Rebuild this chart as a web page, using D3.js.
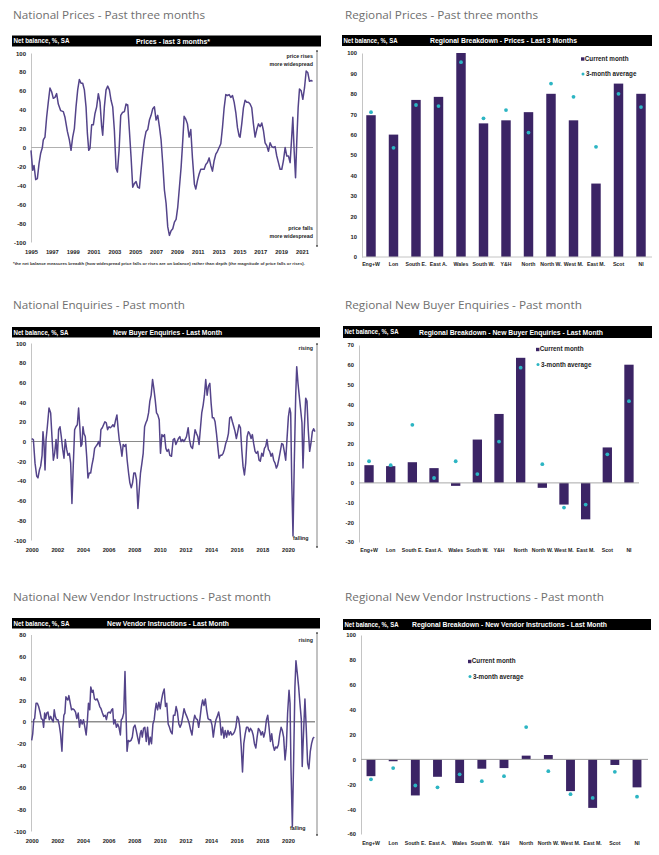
<!DOCTYPE html>
<html><head><meta charset="utf-8">
<script src="https://cdn.jsdelivr.net/npm/d3@7"></script>
<style>body{margin:0;background:#fff}svg{display:block}</style>
</head><body><svg id="c" width="659" height="855"></svg>
<script>
// ---------------- DATA ----------------
const priceDates = [
 1995.00,1995.16,1995.29,1995.45,1995.61,1995.77,1995.93,1996.09,1996.18,1996.34,1996.50,1996.66,
 1996.82,1996.98,1997.14,1997.30,1997.46,1997.62,1997.85,1998.10,1998.26,1998.49,1998.68,1998.84,
 1999.00,1999.16,1999.32,1999.48,1999.64,1999.80,1999.96,2000.12,2000.28,2000.41,2000.54,2000.66,
 2000.82,2000.98,2001.14,2001.30,2001.46,2001.62,2001.78,2001.88,2002.04,2002.20,2002.36,2002.52,
 2002.68,2002.84,2003.00,2003.16,2003.29,2003.45,2003.61,2003.77,2003.96,2004.12,2004.28,2004.44,
 2004.60,2004.76,2004.92,2005.08,2005.24,2005.40,2005.56,2005.72,2005.88,2006.04,2006.20,2006.36,
 2006.52,2006.68,2006.84,2007.00,2007.16,2007.32,2007.48,2007.64,2007.80,2007.96,2008.12,2008.28,
 2008.44,2008.60,2008.76,2008.92,2009.08,2009.24,2009.40,2009.56,2009.69,2009.85,2010.01,2010.17,
 2010.33,2010.49,2010.68,2010.81,2010.97,2011.13,2011.29,2011.45,2011.61,2011.77,2011.93,2012.09,
 2012.25,2012.41,2012.57,2012.73,2012.89,2013.05,2013.21,2013.37,2013.53,2013.69,2013.85,2014.01,
 2014.17,2014.33,2014.49,2014.65,2014.81,2014.97,2015.06,2015.22,2015.38,2015.54,2015.70,2015.86,
 2016.02,2016.18,2016.34,2016.50,2016.66,2016.82,2016.98,2017.14,2017.30,2017.46,2017.62,2017.78,
 2017.94,2018.10,2018.26,2018.42,2018.58,2018.74,2018.90,2019.06,2019.22,2019.38,2019.54,2019.70,
 2019.86,2019.99,2020.12,2020.25,2020.38,2020.50,2020.63,2020.76,2020.92,2021.08,2021.24,2021.40,
 2021.56,2021.72,2021.88,2022.01];
const priceValues = [
 -3,-24,-19,-34,-33,-17,-6,0,8,11,32,48,
 63,59,52,53,57,46,39,38,32,17,8,-3,
 11,20,43,61,72,68,68,61,43,15,-3,-1,
 24,24,36,43,57,48,22,13,43,61,65,61,
 50,43,18,-22,-26,-3,34,37,38,46,45,18,
 -10,-42,-38,-36,-42,-43,-24,-6,8,17,19,29,
 34,41,43,29,34,22,8,-17,-45,-59,-84,-93,
 -88,-86,-79,-76,-63,-42,-21,7,33,30,25,11,
 19,-11,-39,-44,-35,-28,-23,-23,-23,-18,-16,-11,
 -19,-25,-14,-7,-4,0,4,21,42,56,55,56,
 53,55,48,37,21,12,11,25,42,50,48,48,
 46,42,25,11,19,25,22,26,18,5,2,-4,
 5,1,0,1,-9,-16,-23,-23,-14,0,-9,-9,
 -16,7,32,-4,-32,7,42,62,60,51,63,81,
 79,70,71,70];

const enqDates = [
 2000.00,2000.13,2000.26,2000.39,2000.49,2000.60,2000.70,2000.81,2000.88,2000.96,2001.04,2001.12,
 2001.22,2001.35,2001.48,2001.58,2001.69,2001.79,2001.90,2002.00,2002.10,2002.21,2002.31,2002.42,
 2002.52,2002.62,2002.73,2002.83,2002.94,2003.04,2003.14,2003.25,2003.35,2003.45,2003.56,2003.66,
 2003.77,2003.84,2003.92,2004.00,2004.08,2004.18,2004.29,2004.39,2004.49,2004.60,2004.70,2004.81,
 2004.91,2005.01,2005.12,2005.22,2005.32,2005.40,2005.51,2005.61,2005.71,2005.82,2005.92,2006.03,
 2006.13,2006.23,2006.34,2006.44,2006.55,2006.65,2006.75,2006.83,2006.94,2007.04,2007.14,2007.25,
 2007.35,2007.45,2007.56,2007.66,2007.77,2007.87,2007.97,2008.08,2008.18,2008.29,2008.39,2008.49,
 2008.60,2008.70,2008.81,2008.91,2009.01,2009.12,2009.22,2009.32,2009.43,2009.53,2009.64,2009.74,
 2009.84,2009.95,2010.05,2010.16,2010.26,2010.36,2010.47,2010.57,2010.68,2010.78,2010.91,2011.04,
 2011.14,2011.25,2011.35,2011.45,2011.56,2011.66,2011.77,2011.87,2011.97,2012.08,2012.21,2012.31,
 2012.42,2012.55,2012.65,2012.75,2012.86,2012.96,2013.06,2013.17,2013.27,2013.38,2013.48,2013.58,
 2013.69,2013.79,2013.90,2014.00,2014.10,2014.21,2014.31,2014.42,2014.52,2014.62,2014.73,2014.83,
 2014.94,2015.04,2015.14,2015.25,2015.35,2015.45,2015.56,2015.66,2015.77,2015.87,2015.97,2016.08,
 2016.18,2016.29,2016.39,2016.49,2016.60,2016.70,2016.81,2016.91,2017.01,2017.12,2017.22,2017.32,
 2017.43,2017.53,2017.64,2017.74,2017.84,2017.95,2018.05,2018.16,2018.26,2018.36,2018.47,2018.57,
 2018.68,2018.78,2018.88,2018.99,2019.09,2019.19,2019.30,2019.40,2019.51,2019.61,2019.71,2019.82,
 2019.92,2020.03,2020.13,2020.21,2020.29,2020.39,2020.49,2020.60,2020.68,2020.78,2020.88,2020.99,
 2021.09,2021.17,2021.27,2021.38,2021.48,2021.58,2021.69,2021.79,2021.90,2022.00,2022.10];
const enqValues = [
 3,2,-22,-35,-37,-29,-25,-14,10,-2,-29,2,
 15,34,29,5,-19,-12,2,-17,12,15,5,-8,
 -17,2,-8,-14,-12,-22,-63,-22,12,15,17,34,
 12,-5,-3,15,8,5,-15,-37,-32,-32,-24,-17,
 -7,-5,-3,0,-5,12,14,17,20,19,12,15,
 14,15,17,15,22,27,12,2,-5,-15,-3,-5,
 -3,-19,-32,-42,-47,-42,-32,-32,-39,-68,-49,-32,
 -22,-12,15,19,22,29,41,47,63,54,42,29,
 27,22,-12,7,5,7,-7,-10,-8,-14,-15,2,
 3,-3,0,3,5,0,2,0,2,5,14,2,
 -5,-7,2,12,8,5,-3,14,29,37,47,63,
 47,56,59,39,24,24,20,8,-5,-17,-14,-14,
 -12,-8,-2,2,8,24,25,20,15,10,3,10,
 17,14,-8,-25,-34,-22,5,10,8,3,7,-2,
 -10,-12,-10,-19,-20,-12,-15,-7,-5,2,-8,-10,
 -15,-12,-19,-22,-27,-24,-17,-10,-2,-3,-10,-19,
 2,25,34,29,-39,-96,-22,46,76,59,46,32,
 19,-27,12,44,41,12,-10,-2,10,13,10];

const vendDates = [
 2000.00,2000.08,2000.16,2000.23,2000.34,2000.44,2000.54,2000.65,2000.75,2000.85,2000.93,2001.01,
 2001.09,2001.17,2001.27,2001.37,2001.48,2001.58,2001.68,2001.76,2001.84,2001.94,2002.05,2002.15,
 2002.25,2002.36,2002.44,2002.51,2002.59,2002.67,2002.75,2002.82,2002.90,2003.01,2003.11,2003.21,
 2003.32,2003.42,2003.52,2003.63,2003.73,2003.83,2003.94,2004.04,2004.15,2004.25,2004.35,2004.43,
 2004.53,2004.61,2004.72,2004.79,2004.90,2005.00,2005.10,2005.21,2005.31,2005.41,2005.52,2005.62,
 2005.73,2005.83,2005.93,2006.04,2006.14,2006.24,2006.32,2006.40,2006.50,2006.61,2006.71,2006.81,
 2006.92,2006.99,2007.07,2007.18,2007.28,2007.36,2007.44,2007.54,2007.64,2007.75,2007.85,2007.95,
 2008.06,2008.16,2008.26,2008.37,2008.47,2008.55,2008.63,2008.73,2008.83,2008.94,2009.04,2009.15,
 2009.25,2009.35,2009.46,2009.56,2009.64,2009.72,2009.82,2009.92,2010.03,2010.13,2010.23,2010.34,
 2010.44,2010.54,2010.65,2010.75,2010.85,2010.96,2011.06,2011.17,2011.27,2011.37,2011.48,2011.58,
 2011.68,2011.79,2011.89,2011.99,2012.10,2012.20,2012.30,2012.41,2012.51,2012.62,2012.72,2012.82,
 2012.93,2013.03,2013.13,2013.24,2013.34,2013.45,2013.55,2013.65,2013.76,2013.86,2013.96,2014.07,
 2014.17,2014.27,2014.38,2014.48,2014.59,2014.69,2014.79,2014.90,2015.00,2015.10,2015.21,2015.31,
 2015.41,2015.52,2015.62,2015.73,2015.83,2015.93,2016.04,2016.14,2016.24,2016.35,2016.45,2016.55,
 2016.66,2016.76,2016.87,2016.97,2017.07,2017.18,2017.28,2017.38,2017.49,2017.59,2017.69,2017.80,
 2017.90,2018.01,2018.11,2018.21,2018.32,2018.42,2018.52,2018.63,2018.73,2018.83,2018.94,2019.04,
 2019.15,2019.25,2019.35,2019.46,2019.56,2019.66,2019.77,2019.87,2019.97,2020.08,2020.16,2020.23,
 2020.34,2020.44,2020.54,2020.62,2020.73,2020.83,2020.93,2021.04,2021.11,2021.22,2021.32,2021.42,
 2021.53,2021.63,2021.74,2021.84,2021.95,2022.05];
const vendValues = [
 -17,-11,2,3,17,17,14,9,3,2,-5,8,
 3,8,9,2,5,2,0,11,5,2,2,-3,
 -11,-27,-5,6,8,23,21,20,24,17,11,12,
 11,9,3,8,-5,2,-2,2,-5,-12,2,17,
 11,32,27,29,21,20,21,18,14,12,8,5,
 6,2,8,9,8,11,12,-2,2,-5,-2,-5,
 -12,2,3,8,46,8,-27,-17,-18,-17,-14,-5,
 -3,-8,-14,-20,-11,-8,-14,-6,-5,-18,-5,-21,
 -14,-20,-2,2,11,17,11,18,12,20,26,30,
 14,17,-2,-5,-9,-11,6,6,14,9,-2,-5,
 -2,5,12,8,5,2,-2,-8,-12,0,6,3,
 2,-5,3,14,20,15,21,11,3,2,2,-3,
 -14,-5,2,5,9,2,-12,-5,-15,-8,-14,-8,
 -12,-9,-12,-11,-9,-5,5,3,-5,-23,-46,-20,
 -11,-5,-5,-9,-6,-8,-12,-20,-24,-14,-6,-8,
 -12,-9,-14,-9,2,6,-5,-18,-11,-21,-26,-23,
 -24,-21,-12,-5,-8,-14,-35,-23,8,29,17,-41,
 -96,-35,32,56,44,32,17,2,-41,-8,21,-5,
 -38,-43,-27,-20,-15,-14];

const regions = ["Eng+W","Lon","South E.","East A.","Wales","South W.","Y&H","North","North W.","West M.","East M.","Scot","NI"];
const regPriceCurrent = [69.5,60,77,78.5,100,65.5,67,71,80,67,36,85,80];
const regPriceAvg     = [71,53.5,74.5,74,95.5,68,72,61,85,78.5,54,80,73.5];
const regEnqCurrent   = [9,8.5,10.5,7.5,-1.5,22,35,63.5,-2.5,-11,-18.5,18,60];
const regEnqAvg       = [11,9,29.5,2.5,11,4.5,21,58.5,9.5,-12.5,-11,14.5,41.5];
const regVendCurrent  = [-13.5,-1.5,-29,-14,-19,-7.5,-7,3,3.5,-25.5,-39,-4.5,-22.5];
const regVendAvg      = [-16,-7,-21,-22.5,-12,-17.5,-13.5,26,-9.5,-28,-31,-10,-30];

const priceYearTicks = [1995,1997,1999,2001,2003,2005,2007,2009,2011,2013,2015,2017,2019,2021];
const yearTicks2000  = [2000,2002,2004,2006,2008,2010,2012,2014,2016,2018,2020];
const balanceTicks   = [-100,-80,-60,-40,-20,0,20,40,60,80,100];
const vendTicks      = [-100,-80,-60,-40,-20,0,20,40,60,80];
const regPriceTicks  = [0,10,20,30,40,50,60,70,80,90,100];
const regEnqTicks    = [-30,-20,-10,0,10,20,30,40,50,60,70];
const regVendTicks   = [-60,-40,-20,0,20,40,60,80,100];

// ---------------- STYLE ----------------
const svg = d3.select('#c');
const FONT = '"Liberation Sans", Arial, sans-serif';
const TFONT = '"Open Sans", "Noto Sans", sans-serif';
const LINE_COLOR = '#54448a', BAR_COLOR = '#3b2465', DOT_COLOR = '#2cb5c3';
const fmt = d => String(d);

svg.append('rect').attr('width',659).attr('height',855).attr('fill','#fff');
const defs = svg.append('defs');
defs.append('marker').attr('id','arr').attr('viewBox','0 0 6 6').attr('refX',5).attr('refY',3)
  .attr('markerWidth',3.5).attr('markerHeight',3.5).attr('orient','auto-start-reverse')
  .append('path').attr('d','M0,0L6,3L0,6z').attr('fill','#333');

function title(t, x, y, len) {
  svg.append('text').attr('x',x).attr('y',y).attr('font-family',TFONT).attr('font-size',11.5)
    .attr('fill','#6f6f6f').attr('textLength',len).attr('lengthAdjust','spacingAndGlyphs').text(t);
}
function header(o) {
  svg.append('rect').attr('x',o.x).attr('y',o.y).attr('width',o.w).attr('height',o.h).attr('fill','#000');
  const by = o.y + o.h/2 + 2.4;
  svg.append('text').attr('x',o.x+1.5).attr('y',by).attr('font-family',FONT).attr('font-weight','bold')
    .attr('font-size',6.3).attr('fill','#fff').attr('textLength',o.leftLen).attr('lengthAdjust','spacingAndGlyphs')
    .text('Net balance, %, SA');
  svg.append('text').attr('x',o.cx).attr('y',by+0.3).attr('font-family',FONT).attr('font-weight','bold')
    .attr('font-size',7).attr('fill','#fff').attr('textLength',o.cLen).attr('lengthAdjust','spacingAndGlyphs')
    .text(o.center);
}
function styleAxis(g, size) {
  g.attr('font-family',FONT).attr('font-size',size).attr('font-weight','bold');
  g.selectAll('text').attr('fill','#222');
}
function note(t, x, y, anchor) {
  svg.append('text').attr('x',x).attr('y',y).attr('text-anchor',anchor||'end').attr('font-family',FONT)
    .attr('font-weight','bold').attr('font-size',5.3).attr('fill','#222').text(t);
}

function linePanel(o) {
  const x = d3.scaleLinear().domain(o.xDomain).range(o.xRange);
  const y = d3.scaleLinear().domain(o.yDomain).range(o.yRange);
  const g = svg.append('g');
  const ya = g.append('g').attr('transform',`translate(${o.axisX},0)`)
    .call(d3.axisLeft(y).tickValues(o.yTicks).tickSize(0).tickSizeOuter(0).tickPadding(5).tickFormat(fmt));
  ya.select('.domain').attr('stroke','#c4c4c4').attr('stroke-width',1);
  styleAxis(ya, 6);
  ya.selectAll('text').attr('dy','0.34em');
  const xa = g.append('g').attr('transform',`translate(0,${o.xLabelY})`)
    .call(d3.axisBottom(x).tickValues(o.xTicks).tickSize(0).tickSizeOuter(0).tickFormat(fmt));
  xa.select('.domain').remove();
  styleAxis(xa, 5.8);
  xa.selectAll('text').attr('y',0).attr('dy',0);
  g.append('line').attr('x1',o.axisX).attr('x2',o.zeroX2).attr('y1',y(0)).attr('y2',y(0))
    .attr('stroke',o.zeroColor).attr('stroke-width',1);
  g.append('path').datum(d3.zip(o.dates,o.values)).attr('fill','none').attr('stroke',LINE_COLOR)
    .attr('stroke-width',1.5).attr('stroke-linejoin','round')
    .attr('d',d3.line().x(d=>x(d[0])).y(d=>y(d[1])));
  g.append('line').attr('x1',o.arrowX).attr('x2',o.arrowX).attr('y1',o.arrowY0).attr('y2',o.arrowY1)
    .attr('stroke','#333').attr('stroke-width',0.6)
    .attr('marker-start','url(#arr)').attr('marker-end','url(#arr)');
}

function barPanel(o) {
  const x = d3.scaleBand().domain(regions).range(o.xRange).paddingInner(o.pad).paddingOuter(o.pad/2);
  const y = d3.scaleLinear().domain(o.yDomain).range(o.yRange);
  const g = svg.append('g');
  const ya = g.append('g').attr('transform',`translate(${o.axisX},0)`)
    .call(d3.axisLeft(y).tickValues(o.yTicks).tickSize(0).tickSizeOuter(0).tickPadding(5).tickFormat(fmt));
  ya.select('.domain').attr('stroke','#c4c4c4').attr('stroke-width',1);
  styleAxis(ya, 5.8);
  ya.selectAll('text').attr('dy','0.34em');
  g.selectAll('rect.bar').data(regions).join('rect').attr('class','bar')
    .attr('x',d=>x(d)).attr('width',x.bandwidth())
    .attr('y',(d,i)=>Math.min(y(o.current[i]),y(0)))
    .attr('height',(d,i)=>Math.abs(y(o.current[i])-y(0)))
    .attr('fill',BAR_COLOR);
  g.append('line').attr('x1',o.axisX).attr('x2',o.zeroX2).attr('y1',y(0)).attr('y2',y(0))
    .attr('stroke',o.zeroColor).attr('stroke-width',1);
  g.selectAll('circle.avg').data(regions).join('circle').attr('class','avg')
    .attr('cx',d=>x(d)+x.bandwidth()/2).attr('cy',(d,i)=>y(o.avg[i])).attr('r',1.9)
    .attr('fill',DOT_COLOR);
  const xa = g.append('g').attr('transform',`translate(0,${o.xLabelY})`)
    .call(d3.axisBottom(x).tickSize(0).tickSizeOuter(0));
  xa.select('.domain').remove();
  styleAxis(xa, 5.2);
  xa.selectAll('text').attr('y',0).attr('dy',0);
  // legend
  const L = o.legend;
  g.append('rect').attr('x',L.x).attr('y',L.y-3.2).attr('width',3.4).attr('height',3.4).attr('fill',BAR_COLOR);
  g.append('text').attr('x',L.x+3.8).attr('y',L.y).attr('font-family',FONT).attr('font-weight','bold')
    .attr('font-size',6.3).attr('fill','#222').text('Current month');
  g.append('circle').attr('cx',L.x+2).attr('cy',L.y+13.5).attr('r',1.5).attr('fill',DOT_COLOR);
  g.append('text').attr('x',L.x+5).attr('y',L.y+15.5).attr('font-family',FONT).attr('font-weight','bold')
    .attr('font-size',6.3).attr('fill','#222').text('3-month average');
}

// ---------------- PANEL 1 ----------------
title('National Prices - Past three months', 13, 19, 192);
header({x:12,y:35.5,w:309,h:11,leftLen:56,center:'Prices - last 3 months*',cx:136,cLen:74});
linePanel({xDomain:[1995,2021],xRange:[31,302],yDomain:[-100,100],yRange:[242,53],axisX:31,
  yTicks:balanceTicks,xTicks:priceYearTicks,dates:priceDates,values:priceValues,
  xLabelY:254,zeroX2:313,zeroColor:'#b0b0b0',arrowX:317,arrowY0:50,arrowY1:247});
note('price rises',313,58); note('more widespread',313,65.5);
note('price falls',313,230); note('more widespread',313,238);
svg.append('text').attr('x',13).attr('y',265).attr('font-family',FONT).attr('font-weight','bold')
  .attr('font-size',4.4).attr('fill','#333').attr('textLength',292).attr('lengthAdjust','spacingAndGlyphs')
  .text('*the net balance measures breadth (how widespread price falls or rises are on balance)  rather than depth (the magnitude of price falls or rises).');

// ---------------- PANEL 2 ----------------
title('Regional Prices - Past three months', 345, 19, 193);
header({x:342,y:35,w:310,h:11,leftLen:54,center:'Regional Breakdown - Prices - Last 3 Months',cx:430,cLen:147});
barPanel({xRange:[359.75,652.25],pad:0.58,yDomain:[0,100],yRange:[257,53],axisX:362,yTicks:regPriceTicks,
  current:regPriceCurrent,avg:regPriceAvg,zeroX2:652,zeroColor:'#c4c4c4',xLabelY:265.5,
  legend:{x:581,y:60.5}});

// ---------------- PANEL 3 ----------------
title('National Enquiries - Past month', 13, 309, 172);
header({x:12,y:327,w:308,h:10.5,leftLen:55,center:'New Buyer Enquiries - Last Month',cx:113,cLen:109});
linePanel({xDomain:[2000,2020],xRange:[31.7,288],yDomain:[-100,100],yRange:[540,343],axisX:31,
  yTicks:balanceTicks,xTicks:yearTicks2000,dates:enqDates,values:enqValues,
  xLabelY:552,zeroX2:315,zeroColor:'#8a8a8a',arrowX:317,arrowY0:343,arrowY1:548});
note('rising',313,350); note('falling',293,540,'start');

// ---------------- PANEL 4 ----------------
title('Regional New Buyer Enquiries - Past month', 345, 309, 237);
header({x:343,y:326,w:309,h:12,leftLen:54,center:'Regional Breakdown - New Buyer Enquiries - Last Month',cx:419,cLen:184});
barPanel({xRange:[358.2,639.8],pad:0.57,yDomain:[-30,70],yRange:[542,345],axisX:359,yTicks:regEnqTicks,
  current:regEnqCurrent,avg:regEnqAvg,zeroX2:639,zeroColor:'#a8a8a8',xLabelY:551.5,
  legend:{x:536,y:351}});

// ---------------- PANEL 5 ----------------
title('National New Vendor Instructions - Past month', 13, 601, 258);
header({x:12,y:618,w:308,h:10.5,leftLen:56,center:'New Vendor Instructions - Last Month',cx:107,cLen:122});
linePanel({xDomain:[2000,2020],xRange:[31.7,288],yDomain:[-100,80],yRange:[831,634.5],axisX:31,
  yTicks:vendTicks,xTicks:yearTicks2000,dates:vendDates,values:vendValues,
  xLabelY:843,zeroX2:315,zeroColor:'#555',arrowX:317,arrowY0:632,arrowY1:836});
note('rising',313,641.5); note('falling',290,830,'start');

// ---------------- PANEL 6 ----------------
title('Regional New Vendor Instructions - Past month', 345, 601, 259);
header({x:343,y:619,w:308,h:11,leftLen:54,center:'Regional Breakdown - New Vendor Instructions - Last Month',cx:412,cLen:195});
barPanel({xRange:[359.9,648.1],pad:0.6,yDomain:[-60,100],yRange:[834,635],axisX:361,yTicks:regVendTicks,
  current:regVendCurrent,avg:regVendAvg,zeroX2:648,zeroColor:'#a0a0a0',xLabelY:844.5,
  legend:{x:468,y:663}});
</script></body></html>
